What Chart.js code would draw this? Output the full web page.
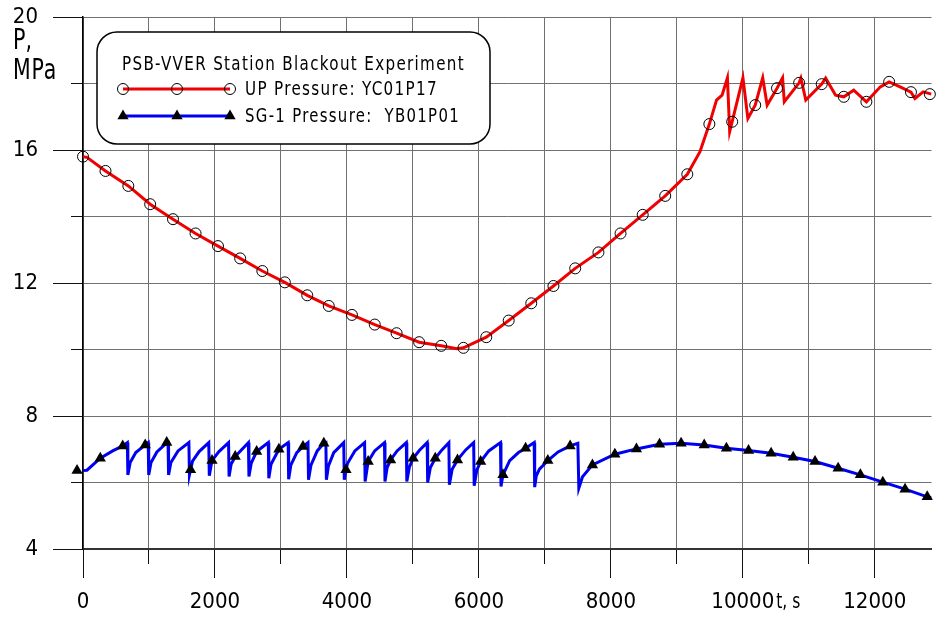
<!DOCTYPE html>
<html><head><meta charset="utf-8">
<script src="https://cdn.jsdelivr.net/npm/chart.js@4.4.0/dist/chart.umd.min.js"></script>
<style>html,body{margin:0;padding:0;background:#fff;}canvas{display:block;}</style>
</head><body>
<canvas id="c" width="938" height="620"></canvas>
<script>
// ---- data ----
const seriesNames = ['UP Pressure: YC01P17', 'SG-1 Pressure:  YB01P01'];
const legendTitle = 'PSB-VVER Station Blackout Experiment';
const yTitle = ['P,', 'MPa'];
const xTitle = 't, s';

const xTicks = [0, 2000, 4000, 6000, 8000, 10000, 12000];
const xMinorTicks = [0, 1000, 2000, 3000, 4000, 5000, 6000, 7000, 8000, 9000, 10000, 11000, 12000];
const yTicks = [4, 8, 12, 16, 20];
const yMinorTicks = [4, 6, 8, 10, 12, 14, 16, 18, 20];
const xMin = 0, xMax = 12860, yMin = 4, yMax = 20;

// UP pressure, continuous line
const upLineT = [0, 60, 341, 687, 1018, 1364, 1706, 2046, 2382, 2718, 3059, 3399, 3725, 4076, 4422, 4753, 5094, 5429, 5665, 5766, 6112, 6452, 6794, 7130, 7460, 7812, 8147, 8483, 8824, 9159, 9351, 9493, 9602, 9686, 9767, 9801, 9839, 10002, 10077, 10188, 10302, 10369, 10519, 10603, 10629, 10854, 10880, 10955, 11196, 11256, 11406, 11531, 11681, 11873, 12084, 12218, 12384, 12549, 12609, 12734, 12860];
const upLineP = [15.80, 15.78, 15.37, 14.92, 14.37, 13.92, 13.49, 13.11, 12.74, 12.36, 12.02, 11.63, 11.31, 11.04, 10.75, 10.49, 10.22, 10.11, 10.02, 10.05, 10.37, 10.87, 11.39, 11.91, 12.44, 12.92, 13.49, 14.05, 14.62, 15.27, 15.95, 16.78, 17.50, 17.65, 18.17, 16.55, 16.85, 18.17, 16.95, 17.35, 18.17, 17.35, 17.86, 18.17, 17.45, 18.02, 18.16, 17.50, 17.98, 18.16, 17.65, 17.60, 17.80, 17.45, 17.90, 18.05, 17.90, 17.74, 17.55, 17.75, 17.68];
// UP pressure, circle markers
const upMarkT = [0, 341, 687, 1018, 1364, 1706, 2046, 2382, 2718, 3059, 3399, 3725, 4076, 4422, 4753, 5094, 5429, 5766, 6112, 6452, 6794, 7130, 7460, 7812, 8147, 8483, 8824, 9159, 9493, 9839, 10188, 10519, 10854, 11196, 11531, 11873, 12218, 12549, 12835];
const upMarkP = [15.80, 15.37, 14.92, 14.37, 13.92, 13.49, 13.11, 12.74, 12.36, 12.02, 11.63, 11.31, 11.04, 10.75, 10.49, 10.22, 10.11, 10.05, 10.37, 10.87, 11.39, 11.91, 12.44, 12.92, 13.49, 14.05, 14.62, 15.27, 16.78, 16.85, 17.35, 17.86, 18.02, 17.98, 17.60, 17.45, 18.05, 17.74, 17.68];

// SG-1 pressure, continuous line
const sgLineT = [0, 60, 262, 450, 602, 672, 680, 715, 800, 943, 988, 996, 1031, 1120, 1269, 1289, 1297, 1332, 1440, 1605, 1613, 1630, 1660, 1760, 1906, 1914, 1955, 2060, 2206, 2214, 2245, 2307, 2400, 2507, 2515, 2550, 2632, 2808, 2816, 2850, 2969, 3109, 3117, 3150, 3240, 3334, 3410, 3418, 3455, 3550, 3650, 3681, 3689, 3720, 3800, 3952, 3960, 3986, 4010, 4120, 4268, 4276, 4322, 4420, 4569, 4577, 4610, 4662, 4760, 4900, 4908, 4945, 5004, 5100, 5216, 5224, 5265, 5339, 5440, 5545, 5553, 5595, 5676, 5800, 5921, 5929, 5970, 6027, 6150, 6327, 6335, 6365, 6467, 6600, 6708, 6838, 6846, 6870, 6918, 7045, 7200, 7383, 7500, 7515, 7571, 7721, 8061, 8388, 8738, 9065, 9415, 9752, 10087, 10429, 10764, 11095, 11445, 11782, 12122, 12459, 12795, 12860];
const sgLineP = [6.36, 6.37, 6.73, 6.95, 7.10, 7.20, 6.23, 6.60, 6.90, 7.13, 7.20, 6.23, 6.60, 6.92, 7.19, 7.20, 6.23, 6.60, 6.95, 7.20, 6.23, 6.38, 6.64, 6.93, 7.20, 6.20, 6.66, 6.93, 7.20, 6.18, 6.55, 6.78, 6.98, 7.20, 6.18, 6.58, 6.93, 7.20, 6.13, 6.55, 7.00, 7.20, 6.10, 6.52, 6.90, 7.08, 7.20, 6.08, 6.52, 6.95, 7.18, 7.20, 6.08, 6.50, 6.90, 7.20, 6.08, 6.38, 6.58, 6.95, 7.20, 6.03, 6.63, 6.95, 7.20, 6.03, 6.45, 6.68, 6.95, 7.20, 6.03, 6.45, 6.73, 6.97, 7.20, 6.00, 6.45, 6.73, 6.98, 7.20, 5.93, 6.40, 6.68, 6.98, 7.20, 5.90, 6.38, 6.63, 6.95, 7.20, 5.88, 6.23, 6.66, 6.90, 7.03, 7.20, 5.86, 6.20, 6.40, 6.66, 6.92, 7.10, 7.18, 5.83, 6.17, 6.53, 6.85, 7.01, 7.15, 7.18, 7.13, 7.03, 6.96, 6.88, 6.76, 6.63, 6.43, 6.23, 6.01, 5.80, 5.57, 5.54];
// SG-1 pressure, triangle markers
const sgMarkT = [-90, 262, 602, 943, 1269, 1630, 1955, 2307, 2632, 2969, 3334, 3650, 3986, 4322, 4662, 5004, 5339, 5676, 6027, 6365, 6708, 7045, 7383, 7721, 8061, 8388, 8738, 9065, 9415, 9752, 10087, 10429, 10764, 11095, 11445, 11782, 12122, 12459, 12795];
const sgMarkP = [6.36, 6.73, 7.10, 7.13, 7.20, 6.38, 6.66, 6.78, 6.93, 7.00, 7.08, 7.18, 6.38, 6.63, 6.68, 6.73, 6.73, 6.68, 6.63, 6.23, 7.03, 6.66, 7.10, 6.53, 6.85, 7.01, 7.15, 7.18, 7.13, 7.03, 6.96, 6.88, 6.76, 6.63, 6.43, 6.23, 6.01, 5.80, 5.57];

// ---- font selection: prefer an installed condensed face ----
function pickFont() {
  const c = document.createElement('canvas').getContext('2d');
  const s = '0123456789 MPa Pressure';
  const w = f => { c.font = f; return c.measureText(s).width; };
  const mono = w('40px monospace'), serif = w('40px serif');
  const named = ['Liberation Sans Narrow', 'Arial Narrow', 'Noto Sans Condensed', 'DejaVu Sans Condensed', 'Roboto Condensed', 'Open Sans Condensed'];
  for (const n of named) {
    if (w(`40px "${n}", monospace`) !== mono && w(`40px "${n}", serif`) !== serif) return {family: `"${n}"`, style: 'normal'};
  }
  for (const n of ['Noto Sans', 'Open Sans', 'Roboto', 'DejaVu Sans']) {
    if (w(`condensed 40px "${n}"`) < 0.93 * w(`40px "${n}"`)) return {family: `"${n}"`, style: 'condensed'};
  }
  return {family: '"Liberation Sans", Arial, sans-serif', style: 'normal'};
}
const PF = pickFont();
const FONT = PF.family;
const fontStr = size => `${PF.style === 'condensed' ? 'condensed ' : ''}${size}px ${FONT}`;
// tick font size chosen so that "12000" is about as wide as in the reference
const TICK_FONT_SIZE = (() => {
  const c = document.createElement('canvas').getContext('2d');
  c.font = fontStr(28);
  return Math.min(28, Math.round(28 * 62 / c.measureText('12000').width));
})();

// ---- styles ----
const RED = '#f00000', BLUE = '#0000f0', GRID = '#707070', TICKC = '#111';
const X_MAJOR_LEN = 29, X_MINOR_LEN = 15, Y_MAJOR_LEN = 30, Y_MINOR_LEN = 12;
const X_LABEL_PAD = 11, Y_LABEL_PAD = 15;

const pts = (T, P) => T.map((t, i) => ({x: t, y: P[i]}));
const setTicks = arr => scale => { scale.ticks = arr.map(v => ({value: v})); };

function fitText(ctx, text, x, y, targetW, baseSpacing) {
  ctx.letterSpacing = baseSpacing + 'px';
  const w = ctx.measureText(text).width;
  if (w < targetW) {
    ctx.letterSpacing = (baseSpacing + (targetW - w) / text.length).toFixed(2) + 'px';
    ctx.fillText(text, x, y);
  } else {
    ctx.fillText(text, x, y, targetW);
  }
  ctx.letterSpacing = '0px';
}
function circleMark(ctx, x, y) {
  ctx.beginPath(); ctx.arc(x, y, 5.5, 0, Math.PI * 2);
  ctx.lineWidth = 1; ctx.strokeStyle = '#000'; ctx.stroke();
}
function triMark(ctx, x, y) {
  const r = 6.5;
  ctx.beginPath();
  ctx.moveTo(x, y - r);
  ctx.lineTo(x + 0.866 * r, y + 0.5 * r);
  ctx.lineTo(x - 0.866 * r, y + 0.5 * r);
  ctx.closePath(); ctx.fillStyle = '#000'; ctx.fill();
}

const decor = {
  id: 'decor',
  afterDraw(chart) {
    const ctx = chart.ctx, ca = chart.chartArea, xs = chart.scales.x;
    ctx.save();
    ctx.fillStyle = '#000';
    ctx.textAlign = 'left';
    ctx.textBaseline = 'alphabetic';
    ctx.font = fontStr(28);
    fitText(ctx, yTitle[0], 13, 49, 19, 0);
    fitText(ctx, yTitle[1], 13, 79, 44, 1);
    // x title right after the 10000 tick label
    ctx.font = fontStr(TICK_FONT_SIZE);
    const px = xs.getPixelForValue(10000);
    const w = ctx.measureText('10000').width;
    ctx.textBaseline = 'middle';
    fitText(ctx, xTitle, px + w / 2 + 2, ca.bottom + X_MAJOR_LEN + X_LABEL_PAD + TICK_FONT_SIZE * 1.2 / 2, 24, 0);

    // legend box
    ctx.beginPath();
    ctx.roundRect(97, 32, 393, 112, 20);
    ctx.fillStyle = '#fff'; ctx.fill();
    ctx.lineWidth = 1.5; ctx.strokeStyle = '#000'; ctx.stroke();
    ctx.fillStyle = '#000';
    ctx.font = fontStr(19);
    ctx.textBaseline = 'alphabetic';
    fitText(ctx, legendTitle, 122, 70, 343, 1.5);
    const ds = chart.data.datasets;
    // entry 1
    ctx.beginPath(); ctx.moveTo(123, 89); ctx.lineTo(230, 89);
    ctx.lineWidth = 3; ctx.strokeStyle = ds[2].borderColor; ctx.stroke();
    [123, 177, 230].forEach(x => circleMark(ctx, x, 89));
    ctx.fillStyle = '#000';
    fitText(ctx, ds[0].label, 245, 95, 193, 1.5);
    // entry 2
    ctx.beginPath(); ctx.moveTo(123, 116); ctx.lineTo(230, 116);
    ctx.lineWidth = 3; ctx.strokeStyle = ds[3].borderColor; ctx.stroke();
    [123, 177, 230].forEach(x => triMark(ctx, x, 116));
    ctx.fillStyle = '#000';
    fitText(ctx, ds[1].label, 245, 122, 215, 1.5);
    ctx.restore();
  }
};

const tickFont = {family: FONT, size: TICK_FONT_SIZE, style: PF.style === 'condensed' ? 'condensed' : 'normal'};
const noPadY = s => { s.paddingTop = 0; s.paddingBottom = 0; };
const noPadX = s => { s.paddingLeft = 0; s.paddingRight = 0; };

new Chart(document.getElementById('c'), {
  type: 'scatter',
  data: {
    datasets: [
      {label: seriesNames[0], data: pts(upMarkT, upMarkP), showLine: false, pointStyle: 'circle',
       pointRadius: 5.5, pointBorderWidth: 1, pointBorderColor: '#000', pointBackgroundColor: 'rgba(0,0,0,0)', order: 0, clip: false},
      {label: seriesNames[1], data: pts(sgMarkT, sgMarkP), showLine: false, pointStyle: 'triangle',
       pointRadius: 6.5, pointBorderWidth: 0, pointBorderColor: '#000', pointBackgroundColor: '#000', order: 0, clip: false},
      {label: seriesNames[0], data: pts(upLineT, upLineP), showLine: true, borderColor: RED, borderWidth: 3,
       pointRadius: 0, tension: 0, order: 1},
      {label: seriesNames[1], data: pts(sgLineT, sgLineP), showLine: true, borderColor: BLUE, borderWidth: 3,
       pointRadius: 0, tension: 0, order: 1}
    ]
  },
  options: {
    responsive: false, animation: false, events: [],
    layout: {padding: {top: 17, right: 0, left: 0, bottom: 0}},
    plugins: {legend: {display: false}, tooltip: {enabled: false}},
    scales: {
      xMinor: {type: 'linear', axis: 'x', position: 'bottom', weight: 0, min: xMin, max: xMax,
        afterBuildTicks: setTicks(xMinorTicks), ticks: {display: false},
        grid: {color: GRID, lineWidth: 1, drawTicks: true, tickLength: X_MINOR_LEN, tickColor: TICKC, tickWidth: 1},
        border: {display: false}, afterFit: s => { s.height = 0; noPadX(s); }},
      x: {type: 'linear', position: 'bottom', weight: 1, min: xMin, max: xMax,
        afterBuildTicks: setTicks(xTicks),
        ticks: {font: tickFont, color: '#000', padding: X_LABEL_PAD, maxRotation: 0, autoSkip: false, callback: v => String(v)},
        grid: {drawOnChartArea: false, drawTicks: true, tickLength: X_MAJOR_LEN, tickColor: TICKC, tickWidth: 1},
        border: {display: true, color: '#333', width: 2}, afterFit: s => { s.height = 71; noPadX(s); }},
      yMinor: {type: 'linear', axis: 'y', position: 'left', weight: 0, min: yMin, max: yMax,
        afterBuildTicks: setTicks(yMinorTicks), ticks: {display: false},
        grid: {color: GRID, lineWidth: 1, drawTicks: true, tickLength: Y_MINOR_LEN, tickColor: TICKC, tickWidth: 1},
        border: {display: false}, afterFit: s => { s.width = 0; noPadY(s); }},
      y: {type: 'linear', position: 'left', weight: 1, min: yMin, max: yMax,
        afterBuildTicks: setTicks(yTicks),
        ticks: {font: tickFont, color: '#000', padding: Y_LABEL_PAD, autoSkip: false, callback: v => String(v)},
        grid: {drawOnChartArea: false, drawTicks: true, tickLength: Y_MAJOR_LEN, tickColor: TICKC, tickWidth: 1},
        border: {display: true, color: '#000', width: 1.5}, afterFit: s => { s.width = 83; noPadY(s); }}
    }
  },
  plugins: [decor]
});
</script>
</body></html>
